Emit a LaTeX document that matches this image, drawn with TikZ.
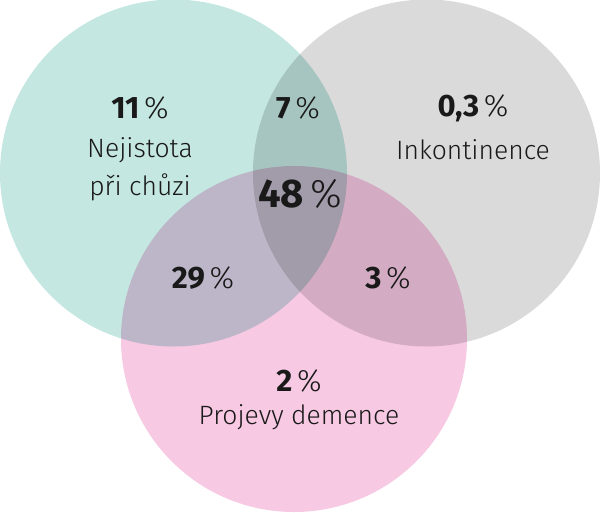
\documentclass[tikz,border=0pt]{standalone}
\usepackage{fontspec}
\setmainfont{Fira Sans}
\newfontfamily\lightf{Fira Sans Light}
\begin{document}
\begin{tikzpicture}[x=1pt,y=-1pt,
  lbl/.style={text=black!90,font=\lightf\fontsize{26.5}{30}\selectfont,align=center,inner sep=0pt},
  num/.style={text=black!90,font=\fontsize{31}{34}\selectfont,inner sep=0pt},
  big/.style={text=black!90,font=\fontsize{40}{44}\selectfont,inner sep=0pt}]
\useasboundingbox (0,0) rectangle (600,512);
\begin{scope}[blend group=multiply]
\fill[fill={rgb,255:red,196;green,231;blue,225}] (173.5,173) circle (173.5);
\fill[fill={rgb,255:red,218;green,218;blue,218}] (426.5,173) circle (173.5);
\fill[fill={rgb,255:red,247;green,201;blue,227}] (294,339) circle (173);
\end{scope}
\node[num] (a1) at (140,108) {\textbf{11}\hspace{0.15em}{\lightf\%}};
\node[lbl] (a2) at (140,150) {Nejistota};
\node[lbl] (a3) at (140,187) {při chůzi};
\node[num] (ab) at (298,108) {\textbf{7}\hspace{0.15em}{\lightf\%}};
\node[num] (b1) at (473,108) {\textbf{0,3}\hspace{0.15em}{\lightf\%}};
\node[lbl] (b2) at (473,150) {Inkontinence};
\node[big] (abc) at (300,194) {\textbf{48}\hspace{0.15em}{\lightf\%}};
\node[num] (ac) at (203,278) {\textbf{29}\hspace{0.15em}{\lightf\%}};
\node[num] (bc) at (388,278) {\textbf{3}\hspace{0.15em}{\lightf\%}};
\node[num] (c1) at (299,381) {\textbf{2}\hspace{0.15em}{\lightf\%}};
\node[lbl] (c2) at (299,417) {Projevy demence};
\end{tikzpicture}
\end{document}
